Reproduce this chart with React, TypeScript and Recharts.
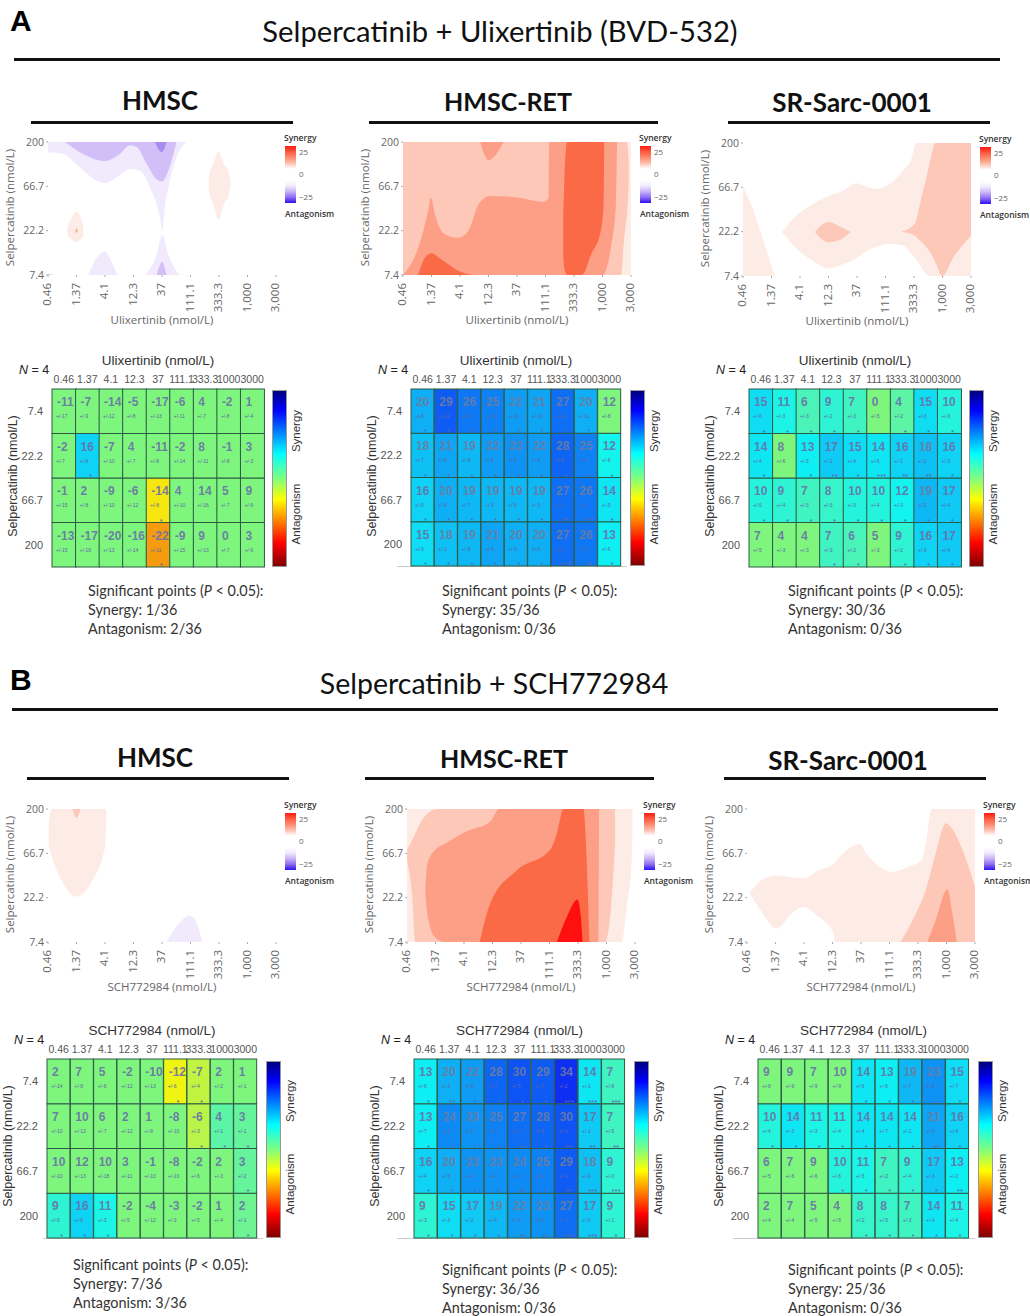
import React from "react";
import { AreaChart, Area, BarChart, Bar, XAxis, YAxis } from "recharts";

const doseTicks = ["0.46", "1.37", "4.1", "12.3", "37", "111.1", "333.3", "1,000", "3,000"];
const heatDoses = ["0.46", "1.37", "4.1", "12.3", "37", "111.1", "333.3", "1000", "3000"];
const selperTicks = ["7.4", "22.2", "66.7", "200"];

// contour bands: [dose index, low edge, high edge], selpercatinib in row units (7.4 = 0, 200 = 3)
type Band = number[][];

const aHmscTop: Band = [[0, 2.77, 3], [0.53, 2.73, 3], [1.11, 2.43, 3], [1.7, 2.13, 3], [1.99, 2.07, 3], [2.4, 2.2, 3], [2.87, 2.39, 3], [3.22, 2.35, 3], [3.58, 1.97, 3], [3.93, 1.29, 3], [4.01, 0.99, 3], [4.1, 1.52, 3], [4.28, 2.13, 3], [4.51, 2.66, 3], [4.87, 3, 3]];
const aHmscTopMid: Band = [[0.59, 3, 3], [1.23, 2.73, 3], [1.99, 2.57, 3], [2.52, 2.73, 3], [2.87, 2.92, 3], [3.11, 2.89, 3], [3.46, 2.51, 3], [3.81, 2.16, 3], [4.01, 2.11, 3], [4.22, 2.35, 3], [4.51, 3, 3]];
const aHmscTopDark: Band = [[3.75, 3, 3], [3.99, 2.77, 3], [4.16, 3, 3]];
const aHmscCorner: Band = [[0, 0, 0.03], [0.2, 0, 0]];
const aHmscLow1: Band = [[1.41, 0, 0], [1.7, 0, 0.38], [1.99, 0, 0.53], [2.23, 0, 0.3], [2.43, 0, 0]];
const aHmscLow2: Band = [[3.42, 0, 0], [3.81, 0, 0.46], [4.01, 0, 0.91], [4.22, 0, 0.46], [4.6, 0, 0]];
const aHmscLow3: Band = [[3.81, 0, 0], [3.93, 0, 0.23], [4.01, 0, 0.3], [4.1, 0, 0.15], [4.16, 0, 0]];
const aHmscBlob1: Band = [[0.67, 1, 1], [0.7, 0.88, 1.12], [0.82, 0.81, 1.27], [1.0, 0.74, 1.43], [1.15, 0.81, 1.29], [1.23, 0.88, 1.12], [1.25, 1, 1]];
const aHmscDot: Band = [[0.96, 1, 1], [1.0, 0.95, 1.05], [1.04, 1, 1]];
const aHmscBlob2: Band = [[5.63, 2.05, 2.05], [5.66, 1.85, 2.28], [5.8, 1.6, 2.5], [5.98, 1.24, 2.78], [6.18, 1.6, 2.5], [6.36, 1.85, 2.28], [6.41, 2.05, 2.05]];

const aRetBase: Band = [[0, 0, 3], [8, 0, 3]];
const aRetLight: Band = [[0, 0, 3], [7.65, 0, 3], [7.76, 0.83, 3], [7.86, 1.4, 3], [7.92, 2, 2.6]];
const aRetSalmon: Band = [[0, 0, 0], [0.53, 0, 0.61], [0.88, 0, 1.44], [0.98, 0, 1.75], [1.12, 0, 1.37], [1.41, 0, 0.95], [1.94, 0, 0.84], [2.29, 0, 0.99], [2.65, 0, 1.59], [3.06, 0, 1.78], [4.0, 0, 1.75], [4.94, 0, 1.65], [5.11, 0, 1.75], [5.13, 0, 3], [7.0, 0, 3], [7.29, 0.6, 3], [7.47, 1.6, 3], [7.51, 3, 3]];
const aRetLobe: Band = [[2.71, 3, 3], [3.0, 2.59, 3], [3.53, 3, 3]];
const aRetDeep: Band = [[5.62, 0.5, 1.3], [5.66, 0.15, 2.1], [5.76, 0, 3], [6.29, 0, 3], [6.59, 0.45, 3], [6.94, 1.0, 3], [7.04, 1.6, 3], [7.06, 3, 3]];
const aRetBlob: Band = [[0.53, 0, 0], [0.76, 0, 0.38], [1.0, 0, 0.49], [1.29, 0, 0.38], [2.0, 0, 0.08], [2.47, 0, 0]];

const aSrLeft: Band = [[0, 0, 2.01], [0.29, 0, 1.6], [0.64, 0, 0.95], [1.11, 0, 0]];
const aSrMain: Band = [[1.38, 0.99, 0.99], [1.81, 0.66, 1.33], [2.4, 0.36, 1.6], [2.99, 0.17, 1.8], [3.57, 0.28, 1.94], [3.98, 0.4, 2.09], [4.39, 0.58, 2.0], [4.74, 0.67, 1.97], [5.09, 0.73, 2.05], [5.62, 0.69, 2.38], [5.91, 0.5, 2.65], [6.05, 0.4, 2.98], [6.09, 0.36, 3], [6.56, 0, 3], [8, 0, 3]];
const aSrCore: Band = [[2.52, 0.99, 0.99], [2.99, 0.76, 1.22], [3.45, 0.83, 1.1], [3.78, 0.99, 0.99]];
const aSrRight: Band = [[5.54, 1, 1], [6.03, 0.91, 1.18], [6.21, 0.8, 1.63], [6.5, 0.6, 2.4], [6.76, 0.3, 3], [6.99, 0, 3], [7.38, 0.42, 3], [8, 0.91, 3]];

const bHmscPale: Band = [[0.02, 2.2, 2.6], [0.12, 1.95, 3], [0.41, 1.47, 3], [1.0, 1.02, 3], [1.59, 1.43, 3], [2.0, 2.15, 3], [2.05, 3, 3]];
const bHmscTip: Band = [[0.86, 3, 3], [1.0, 2.8, 3], [1.14, 3, 3]];
const bHmscViolet: Band = [[4.16, 0, 0], [4.63, 0, 0.45], [4.98, 0, 0.6], [5.22, 0, 0.42], [5.42, 0, 0]];

const bRetBase: Band = [[0, 0, 3], [7.53, 0, 3], [7.71, 0.8, 3], [7.89, 1.9, 3], [7.92, 3, 3]];
const bRetLight: Band = [[0, 1.85, 2.08], [0.18, 1.02, 2.3], [0.29, 0, 2.45], [0.53, 0, 2.75], [1.05, 0, 3], [6.95, 0, 3], [7.18, 0.95, 3], [7.3, 2.2, 3]];
const bRetSalmon: Band = [[0.64, 1.17, 1.17], [0.72, 0.6, 1.78], [0.99, 0.1, 2.08], [1.29, 0, 2.2], [2.1, 0, 2.5], [2.92, 0, 2.72], [3.24, 0, 3], [6.72, 0, 3], [6.74, 3, 3]];
const bRetDeep: Band = [[2.55, 0, 0], [2.92, 0, 0.87], [3.86, 0, 1.62], [5.02, 0, 2.08], [5.26, 0, 2.45], [5.49, 0, 3], [6.19, 0, 3], [6.3, 0, 1.93], [6.4, 0, 0]];
const bRetRed: Band = [[5.26, 0, 0], [5.61, 0, 0.57], [5.98, 0, 0.96], [6.1, 0, 0.57], [6.16, 0, 0]];

const bSrPale: Band = [[0.09, 1.1, 1.1], [0.51, 0.68, 1.4], [1.04, 0.3, 1.5], [1.56, 0.64, 1.46], [1.98, 0.79, 1.44], [2.51, 0.57, 1.62], [3.04, 0.19, 1.76], [3.09, 0, 1.8], [3.98, 0, 2.21], [4.15, 0, 2.03], [4.51, 0, 1.77], [5.09, 0, 1.58], [5.68, 0, 1.7], [6.15, 0, 1.86], [6.27, 0, 2.22], [6.48, 0, 3], [8, 0, 3]];
const bSrLight: Band = [[5.39, 0, 0], [5.92, 0, 0.64], [6.27, 0, 1.17], [6.62, 0, 2.0], [6.98, 0, 2.68], [7.09, 0, 2.64], [7.56, 0, 2.08], [8, 0, 1.25]];
const bSrCore: Band = [[6.33, 0, 0], [6.62, 0, 0.49], [7.03, 0, 1.19], [7.21, 0, 0.64], [7.36, 0, 0]];

// heat map values, rows from 7.4 down to 200
const aHmscValues = [[-11, -7, -14, -5, -17, -6, 4, -2, 1], [-2, 16, -7, 4, -11, -2, 8, -1, 3], [-1, 2, -9, -6, -14, 4, 14, 5, 9], [-13, -17, -20, -16, -22, -9, 9, 0, 3]];
const aHmscSd = [[17, 9, 12, 8, 13, 11, 7, 8, 4], [7, 8, 10, 7, 8, 14, 11, 8, 3], [15, 8, 10, 12, 8, 10, 16, 7, 6], [15, 18, 13, 14, 11, 15, 13, 7, 6]];
const aHmscStars = [[0, 0, 0, 0, 0, 0, 0, 0, 0], [0, 1, 0, 0, 0, 0, 0, 0, 0], [0, 0, 0, 0, 1, 0, 0, 0, 0], [0, 0, 0, 0, 1, 0, 0, 0, 0]];

const aRetValues = [[20, 29, 26, 25, 22, 21, 27, 20, 12], [18, 21, 19, 22, 23, 22, 28, 25, 12], [16, 20, 19, 19, 19, 19, 27, 26, 14], [15, 18, 19, 21, 20, 20, 27, 26, 13]];
const aRetSd = [[8, 12, 8, 10, 11, 10, 11, 11, 8], [7, 8, 8, 6, 6, 4, 5, 4, 6], [5, 5, 7, 3, 5, 5, 2, 1, 5], [3, 3, 8, 4, 4, 5, 1, 3, 6]];
const aRetStars = [[1, 1, 1, 1, 1, 1, 1, 1, 0], [1, 1, 1, 1, 1, 1, 1, 1, 1], [1, 1, 1, 1, 1, 1, 2, 3, 1], [1, 1, 1, 1, 1, 1, 3, 2, 1]];

const aSrValues = [[15, 11, 6, 9, 7, 0, 4, 15, 10], [14, 8, 13, 17, 15, 14, 16, 18, 16], [10, 9, 7, 8, 10, 10, 12, 19, 17], [7, 4, 4, 7, 6, 5, 9, 16, 17]];
const aSrSd = [[6, 3, 3, 2, 3, 5, 2, 3, 6], [4, 6, 3, 1, 4, 6, 1, 2, 3], [5, 4, 3, 3, 3, 4, 3, 2, 4], [5, 3, 3, 3, 2, 3, 2, 3, 4]];
const aSrStars = [[1, 1, 1, 1, 1, 0, 1, 1, 1], [1, 0, 1, 2, 1, 3, 2, 2, 1], [1, 1, 1, 1, 1, 1, 1, 1, 1], [0, 0, 0, 1, 1, 0, 1, 1, 1]];

const bHmscValues = [[2, 7, 5, -2, -10, -12, -7, 2, 1], [7, 10, 6, 2, 1, -8, -6, 4, 3], [10, 12, 10, 3, -1, -8, -2, 2, 3], [9, 16, 11, -2, -4, -3, -2, 1, 2]];
const bHmscSd = [[14, 8, 6, 12, 13, 6, 4, 2, 1], [10, 13, 7, 12, 8, 10, 3, 1, 1], [10, 13, 18, 11, 10, 10, 6, 3, 2], [5, 8, 3, 5, 12, 3, 5, 4, 1]];
const bHmscStars = [[0, 0, 0, 0, 0, 1, 1, 0, 0], [0, 0, 0, 0, 0, 0, 1, 1, 1], [0, 0, 0, 0, 0, 0, 0, 0, 1], [1, 1, 1, 0, 0, 0, 0, 0, 1]];

const bRetValues = [[13, 20, 22, 28, 30, 29, 34, 14, 7], [13, 24, 23, 25, 27, 28, 30, 17, 7], [16, 20, 23, 23, 24, 25, 29, 18, 9], [9, 15, 17, 19, 22, 23, 27, 17, 9]];
const bRetSd = [[6, 3, 6, 7, 5, 7, 2, 1, 8], [7, 5, 5, 7, 4, 6, 3, 1, 5], [4, 5, 4, 4, 2, 4, 2, 0, 0], [3, 3, 2, 4, 2, 3, 1, 0, 1]];
const bRetStars = [[1, 2, 1, 1, 1, 1, 3, 3, 3], [1, 1, 1, 1, 2, 1, 2, 2, 2], [1, 1, 1, 1, 2, 1, 2, 3, 3], [1, 1, 1, 1, 2, 2, 3, 3, 1]];

const bSrValues = [[9, 9, 7, 10, 14, 13, 19, 23, 15], [10, 14, 11, 11, 14, 14, 14, 21, 16], [6, 7, 9, 10, 11, 7, 9, 17, 13], [2, 7, 5, 4, 8, 8, 7, 14, 11]];
const bSrSd = [[8, 9, 9, 9, 6, 6, 7, 5, 7], [4, 3, 3, 4, 4, 7, 2, 3, 4], [5, 6, 6, 6, 5, 2, 4, 3, 2], [4, 4, 5, 5, 2, 5, 3, 4, 4]];
const bSrStars = [[0, 0, 0, 0, 1, 1, 1, 1, 1], [1, 1, 1, 1, 1, 1, 1, 2, 1], [0, 0, 0, 1, 1, 1, 1, 1, 2], [0, 0, 0, 0, 1, 1, 1, 1, 1]];

const PALE = "#fdece6";
const LIGHT = "#fdc8b8";
const SALMON = "#fc9f86";
const DEEP = "#fa6a47";
const RED = "#fe1010";
const V1 = "#f1eafd";
const V2 = "#d3bff7";
const V3 = "#a98cf0";
const LABEL = "'Open Sans', sans-serif";
const ARIAL = "'Liberation Sans', Arial, sans-serif";
const NOT_SIG = "#7ef67e";

// jet scale over -50..50, slightly washed out like the printed figure
const jet = (v: number) => {
  const t = 0.5 - v / 100;
  const c = (x: number) => Math.round(0.9 * 255 * Math.max(0, Math.min(1, 1.5 - Math.abs(4 * x))) + 14);
  return `rgb(${c(t - 0.75)},${c(t - 0.5)},${c(t - 0.25)})`;
};

const bandTable = (bands: Band[]) => {
  const rows = new Map<number, any>();
  bands.forEach((band, i) =>
    band.forEach(([x, lo, hi]) => {
      const row = rows.get(x) ?? { x };
      row[`b${i}`] = [lo, hi];
      rows.set(x, row);
    })
  );
  return [...rows.values()].sort((a, b) => a.x - b.x);
};

const DoseTick = ({ x, y, payload }: any) => (
  <text x={x} y={y + 4} fontSize={11.5} fontFamily={LABEL} fill="#666" textAnchor="end" dominantBaseline="middle" transform={`rotate(-90 ${x} ${y + 4})`}>
    {doseTicks[payload.value]}
  </text>
);

function Contour({ left, top, bands, fills, xLabel }: any) {
  const data = bandTable(bands);
  return (
    <div style={{ position: "absolute", left: left - 45, top: top - 8 }}>
      <AreaChart width={285} height={190} data={data} margin={{ top: 8, right: 12, left: 5, bottom: 0 }}>
        <XAxis dataKey="x" type="number" domain={[0, 8]} ticks={[0, 1, 2, 3, 4, 5, 6, 7, 8]} tick={<DoseTick />} tickSize={2} axisLine={false} tickLine={{ stroke: "#aaa" }} height={49} interval={0} />
        <YAxis type="number" domain={[0, 3]} ticks={[0, 1, 2, 3]} tickFormatter={(v: number) => selperTicks[v]} width={40} tickSize={2} tickMargin={2} axisLine={false} tickLine={{ stroke: "#aaa" }} interval={0} tick={{ fontSize: 10.5, fontFamily: LABEL, fill: "#666" }} />
        {bands.map((_: Band, i: number) => (
          <Area key={i} dataKey={`b${i}`} type="monotone" fill={fills[i]} fillOpacity={1} stroke="none" connectNulls dot={false} activeDot={false} isAnimationActive={false} />
        ))}
      </AreaChart>
      <div style={{ position: "absolute", left: 45, top: 178, width: 228, textAlign: "center", fontSize: 11.5, fontFamily: LABEL, color: "#666" }}>{xLabel}</div>
      <div style={{ position: "absolute", left: -69, top: 66, width: 150, textAlign: "center", fontSize: 11.5, fontFamily: LABEL, color: "#666", transform: "rotate(-90deg)" }}>Selpercatinib (nmol/L)</div>
      <SynergyKey />
    </div>
  );
}

function SynergyKey() {
  const stops = ["#ff1a10", "#fd5a40", "#fc8a70", "#fdc0ae", "#ffffff", "#ffffff", "#ffffff", "#f1eafd", "#c9b2f7", "#8f6cf3", "#2a10f5"];
  const base: React.CSSProperties = { position: "absolute", fontFamily: LABEL, whiteSpace: "nowrap" };
  return (
    <div style={{ position: "absolute", left: 282, top: 12 }}>
      <div style={{ ...base, left: -1, top: -14, fontSize: 8.5, color: "#333", fontWeight: 600 }}>Synergy</div>
      <div style={{ position: "absolute", left: 0, top: 0, width: 11, height: 57, background: `linear-gradient(${stops.join(",")})` }} />
      <div style={{ ...base, left: 14, top: 0, fontSize: 8, color: "#666" }}>25</div>
      <div style={{ ...base, left: 14, top: 22, fontSize: 8, color: "#666" }}>0</div>
      <div style={{ ...base, left: 14, top: 45, fontSize: 8, color: "#666" }}>−25</div>
      <div style={{ ...base, left: 0, top: 62, fontSize: 8.5, color: "#333", fontWeight: 600 }}>Antagonism</div>
    </div>
  );
}

const rowKeys = ["r7", "r22", "r66", "r200"];
const heatTable = heatDoses.map((dose) => ({ dose, r200: 1, r66: 1, r22: 1, r7: 1 }));

function Heatmap({ left, top, right, bottom, barLeft, barTop, values, sds, stars, title, lineFrom }: any) {
  const width = right - left;
  const height = bottom - top;
  const cellShape = (row: number) => (p: any) => {
    const v = values[row][p.index];
    const n = stars[row][p.index];
    return (
      <g fontFamily={ARIAL}>
        <rect x={p.x} y={p.y} width={p.width} height={p.height} fill={n > 0 ? jet(v) : NOT_SIG} stroke="#2c5a45" strokeWidth={1} />
        <text x={p.x + 5} y={p.y + 17} fontSize={12} fontWeight="bold" fill={v >= 18 ? "#6d7ba2" : "#6a70a8"} fillOpacity={0.9}>{v}</text>
        <text x={p.x + 4} y={p.y + 29} fontSize={5} fill="#5f66a8">{`+/-${sds[row][p.index]}`}</text>
        {n > 0 && <text x={p.x + p.width / 2 + 3} y={p.y + p.height + 1} fontSize={8} textAnchor="middle" fill="#5f66a8">{"*".repeat(n)}</text>}
      </g>
    );
  };
  return (
    <>
      {lineFrom !== undefined && <div style={{ position: "absolute", left: lineFrom, width: right + 6 - lineFrom, top: bottom, height: 1, background: "#ccc" }} />}
      <div style={{ position: "absolute", left: left - 50, top: top - 34 }}>
        <BarChart width={width + 60} height={height + 40} data={heatTable} barCategoryGap={0} margin={{ top: 14, right: 10, left: 10, bottom: 6 }}>
          <XAxis dataKey="dose" orientation="top" interval={0} height={20} axisLine={false} tickLine={false} tickMargin={0} tick={{ fontSize: 10.5, fontFamily: ARIAL, fill: "#555" }} />
          <YAxis type="number" domain={[0, 4]} ticks={[0.5, 1.5, 2.5, 3.5]} tickFormatter={(v: number) => selperTicks[3 - Math.floor(v)]} width={40} interval={0} axisLine={false} tickLine={false} tickMargin={3} tick={{ fontSize: 11, fontFamily: ARIAL, fill: "#555" }} />
          {[3, 2, 1, 0].map((row) => (
            <Bar key={row} dataKey={rowKeys[row]} stackId="cells" isAnimationActive={false} shape={cellShape(row)} />
          ))}
        </BarChart>
      </div>
      <div style={{ position: "absolute", left: left, width: width, top: top - 36, textAlign: "center", fontSize: 13.5, fontFamily: ARIAL, color: "#333", whiteSpace: "nowrap" }}>{title}</div>
      <div style={{ position: "absolute", left: left - 33, top: top - 26, fontSize: 12.5, fontFamily: ARIAL, color: "#222" }}><i>N</i> = 4</div>
      <div style={{ position: "absolute", left: left - 134, top: top + 80, width: 190, textAlign: "center", fontSize: 12.5, fontFamily: ARIAL, color: "#333", transform: "rotate(-90deg)" }}>Selpercatinib (nmol/L)</div>
      <div style={{ position: "absolute", left: barLeft, top: barTop, width: 15, height: bottom - barTop, background: "linear-gradient(#00007f,#0000ff 11%,#00ffff 36%,#7fff7f 50%,#ffff00 62%,#ff0000 87%,#7f0000)", boxSizing: "border-box", border: "1px solid #999" }} />
      <div style={{ position: "absolute", left: barLeft - 11, top: top + 36, width: 70, textAlign: "center", fontSize: 11.5, fontFamily: ARIAL, color: "#333", transform: "rotate(-90deg)" }}>Synergy</div>
      <div style={{ position: "absolute", left: barLeft - 11, top: top + 119, width: 70, textAlign: "center", fontSize: 11.5, fontFamily: ARIAL, color: "#333", transform: "rotate(-90deg)" }}>Antagonism</div>
    </>
  );
}

function Summary({ left, top, synergy, antagonism }: any) {
  return (
    <div style={{ position: "absolute", left, top, fontSize: 14.4, lineHeight: "19px", fontFamily: "Lato, sans-serif", color: "#333", whiteSpace: "nowrap" }}>
      <div>Significant points (<i>P</i> &lt; 0.05):</div>
      <div>Synergy: {synergy}</div>
      <div>Antagonism: {antagonism}</div>
    </div>
  );
}

const Rule = ({ x1, x2, y, h = 3 }: any) => <div style={{ position: "absolute", left: x1, width: x2 - x1, top: y, height: h, background: "#111" }} />;

const Heading = ({ cx, y, size, bold, children }: any) => (
  <div style={{ position: "absolute", left: cx - 400, width: 800, top: y, textAlign: "center", fontSize: size, fontWeight: bold ? 700 : 400, fontFamily: "Lato, sans-serif", color: "#111", lineHeight: 1 }}>{children}</div>
);

export default function App() {
  return (
    <div style={{ position: "absolute", left: 0, top: 0, width: 1030, height: 1316, background: "#fff", overflow: "hidden" }}>
      <div style={{ position: "absolute", left: 10, top: 4, fontSize: 30, fontWeight: 700, fontFamily: ARIAL }}>A</div>
      <Heading cx={500} y={16} size={29.2}>Selpercatinib + Ulixertinib (BVD-532)</Heading>
      <Rule x1={14} x2={1000} y={58} />
      <Heading cx={160} y={87} size={26} bold>HMSC</Heading>
      <Heading cx={508} y={89} size={25} bold>HMSC-RET</Heading>
      <Heading cx={852} y={89} size={26} bold>SR-Sarc-0001</Heading>
      <Rule x1={31} x2={293} y={121} />
      <Rule x1={369} x2={658} y={121} />
      <Rule x1={728} x2={990} y={121} />

      <Contour left={48} top={142} xLabel="Ulixertinib (nmol/L)" bands={[aHmscTop, aHmscTopMid, aHmscTopDark, aHmscCorner, aHmscLow1, aHmscLow2, aHmscLow3, aHmscBlob1, aHmscDot, aHmscBlob2]} fills={[V1, V2, V3, V2, V1, V1, V2, PALE, SALMON, PALE]} />
      <Contour left={403} top={142} xLabel="Ulixertinib (nmol/L)" bands={[aRetBase, aRetLight, aRetSalmon, aRetLobe, aRetDeep, aRetBlob]} fills={[PALE, LIGHT, SALMON, SALMON, DEEP, DEEP]} />
      <Contour left={743} top={143} xLabel="Ulixertinib (nmol/L)" bands={[aSrLeft, aSrMain, aSrCore, aSrRight]} fills={[PALE, PALE, LIGHT, LIGHT]} />

      <Heatmap left={52} right={264} top={389} bottom={567} barLeft={272} barTop={390} title="Ulixertinib (nmol/L)" values={aHmscValues} sds={aHmscSd} stars={aHmscStars} />
      <Heatmap left={411} right={621} top={389} bottom={566} barLeft={630} barTop={390} lineFrom={397} title="Ulixertinib (nmol/L)" values={aRetValues} sds={aRetSd} stars={aRetStars} />
      <Heatmap left={749} right={961} top={389} bottom={567} barLeft={969} barTop={390} title="Ulixertinib (nmol/L)" values={aSrValues} sds={aSrSd} stars={aSrStars} />

      <Summary left={88} top={581} synergy="1/36" antagonism="2/36" />
      <Summary left={442} top={581} synergy="35/36" antagonism="0/36" />
      <Summary left={788} top={581} synergy="30/36" antagonism="0/36" />

      <div style={{ position: "absolute", left: 10, top: 663, fontSize: 30, fontWeight: 700, fontFamily: ARIAL }}>B</div>
      <Heading cx={494} y={669} size={28.5}>Selpercatinib + SCH772984</Heading>
      <Rule x1={12} x2={998} y={708} />
      <Heading cx={155} y={744} size={26} bold>HMSC</Heading>
      <Heading cx={504} y={746} size={25} bold>HMSC-RET</Heading>
      <Heading cx={848} y={747} size={26} bold>SR-Sarc-0001</Heading>
      <Rule x1={27} x2={289} y={777} />
      <Rule x1={365} x2={654} y={777} />
      <Rule x1={724} x2={986} y={777} />

      <Contour left={48} top={809} xLabel="SCH772984 (nmol/L)" bands={[bHmscPale, bHmscTip, bHmscViolet]} fills={[PALE, LIGHT, V1]} />
      <Contour left={407} top={809} xLabel="SCH772984 (nmol/L)" bands={[bRetBase, bRetLight, bRetSalmon, bRetDeep, bRetRed]} fills={[PALE, LIGHT, SALMON, DEEP, RED]} />
      <Contour left={747} top={809} xLabel="SCH772984 (nmol/L)" bands={[bSrPale, bSrLight, bSrCore]} fills={[PALE, LIGHT, SALMON]} />

      <Heatmap left={47} right={257} top={1059} bottom={1238} barLeft={266} barTop={1061} lineFrom={43} title="SCH772984 (nmol/L)" values={bHmscValues} sds={bHmscSd} stars={bHmscStars} />
      <Heatmap left={414} right={625} top={1059} bottom={1238} barLeft={634} barTop={1061} lineFrom={397} title="SCH772984 (nmol/L)" values={bRetValues} sds={bRetSd} stars={bRetStars} />
      <Heatmap left={758} right={969} top={1059} bottom={1238} barLeft={978} barTop={1061} lineFrom={733} title="SCH772984 (nmol/L)" values={bSrValues} sds={bSrSd} stars={bSrStars} />

      <Summary left={73} top={1255} synergy="7/36" antagonism="3/36" />
      <Summary left={442} top={1260} synergy="36/36" antagonism="0/36" />
      <Summary left={788} top={1260} synergy="25/36" antagonism="0/36" />
    </div>
  );
}
